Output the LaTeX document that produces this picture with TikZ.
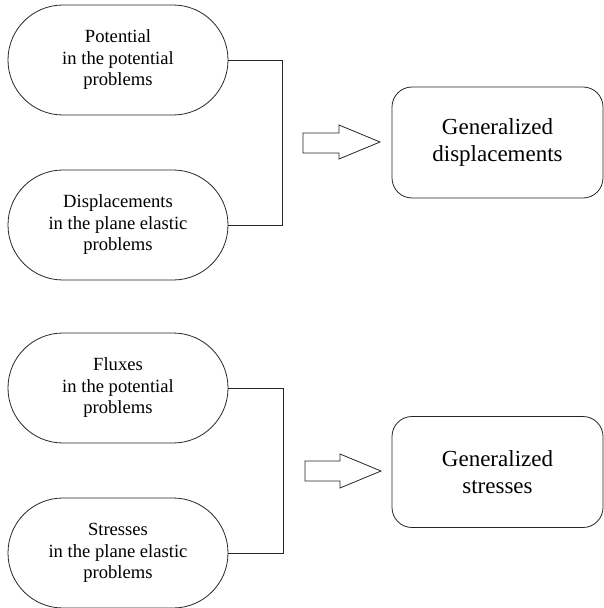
\documentclass[tikz,border=0pt]{standalone}
\usepackage{fontspec}
\setmainfont{Liberation Serif}
\begin{document}
\begin{tikzpicture}[x=1pt, y=-1pt,
  source/.style={draw=black!85, line width=0.8pt, rectangle, rounded corners=54.9pt,
    minimum width=220pt, minimum height=110pt, align=center, inner sep=0pt,
    font=\rmfamily\fontsize{18.6}{21.5}\selectfont},
  target/.style={draw=black!85, line width=0.8pt, rectangle, rounded corners=20pt,
    minimum width=211pt, minimum height=111pt, align=center, inner sep=0pt,
    font=\rmfamily\fontsize{23}{27}\selectfont},
  link/.style={draw=black!85, line width=0.8pt},
  blockarrow/.style={draw=black!85, line width=0.8pt, line join=miter}
]
\path[use as bounding box] (0,0) rectangle (604,608);

% upper group
\node[source] (pot) at (118,60) {Potential\\in the potential\\problems};
\node[source] (disp) at (118,225) {Displacements\\in the plane elastic\\problems};
\node[target] (gdisp) at (497.5,142.5) {Generalized\\displacements};
\draw[link] (pot.east) -- ++(54,0) |- (disp.east);
\coordinate (ar1) at (303,143);
\draw[blockarrow, shift={(ar1)}] (0,-10) -- (36,-10) -- (36,-18) -- (77,-1)
  -- (36,16) -- (36,10) -- (0,10) -- cycle;

% lower group
\node[source] (flux) at (118,388) {Fluxes\\in the potential\\problems};
\node[source] (stress) at (118,553) {Stresses\\in the plane elastic\\problems};
\node[target] (gstress) at (497.5,472) {Generalized\\stresses};
\draw[link] (flux.east) -- ++(55,0) |- (stress.east);
\coordinate (ar2) at (305,471);
\draw[blockarrow, shift={(ar2)}] (0,-10) -- (35,-10) -- (35,-17) -- (76,0)
  -- (35,17) -- (35,10) -- (0,10) -- cycle;
\end{tikzpicture}
\end{document}
